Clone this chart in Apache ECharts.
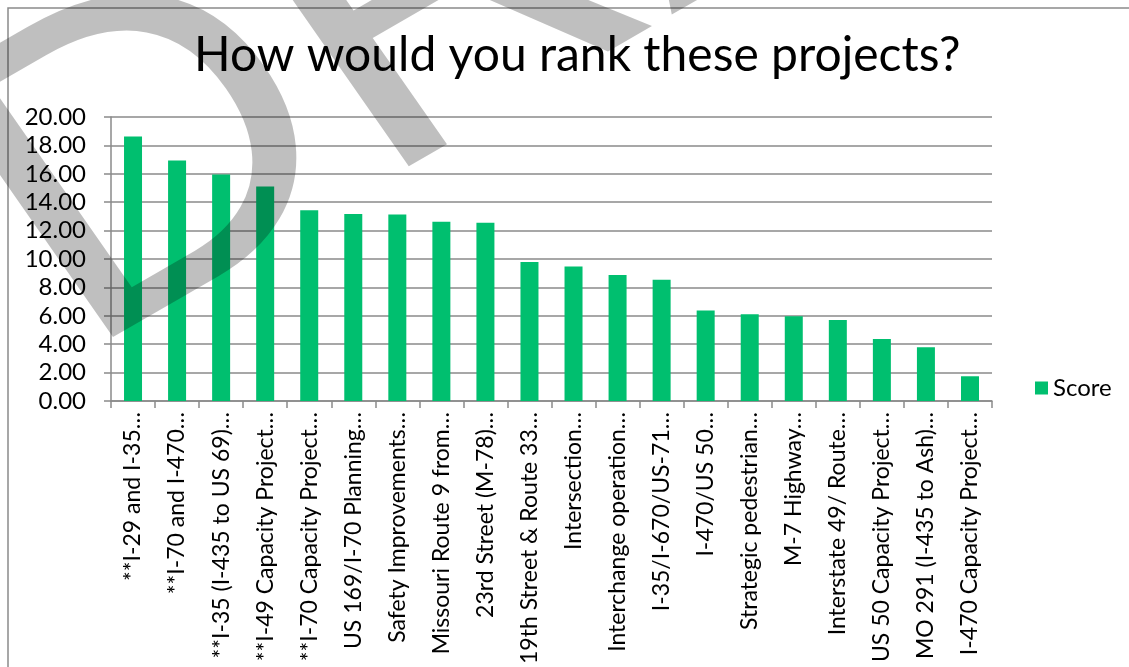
<!DOCTYPE html>
<html>
<head>
<meta charset="utf-8">
<script src="https://cdn.jsdelivr.net/npm/echarts/dist/echarts.min.js"></script>
<style>
html,body{margin:0;padding:0;background:#fff;}
#chart{width:1129px;height:667px;}
</style>
</head>
<body>
<div id="chart"></div>
<script>
var titleText = 'How would you rank these projects?';
var seriesName = 'Score';
var categories = [
  '**I-29 and I-35…',
  '**I-70 and I-470…',
  '**I-35 (I-435 to US 69)…',
  '**I-49 Capacity Project…',
  '**I-70 Capacity Project…',
  'US 169/I-70 Planning…',
  'Safety Improvements…',
  'Missouri Route 9 from…',
  '23rd Street (M-78)…',
  '19th Street & Route 33…',
  'Intersection…',
  'Interchange operation…',
  'I-35/I-670/US-71…',
  'I-470/US 50…',
  'Strategic pedestrian…',
  'M-7 Highway…',
  'Interstate 49/ Route…',
  'US 50 Capacity Project…',
  'MO 291 (I-435 to Ash)…',
  'I-470 Capacity Project…'
];
var scores = [18.62, 16.94, 15.95, 15.10, 13.44, 13.16, 13.14, 12.62, 12.55, 9.78,
              9.47, 8.87, 8.54, 6.38, 6.10, 5.96, 5.71, 4.36, 3.78, 1.74];
var watermarkText = 'DRAFT';

var FONT = 'Lato, "Open Sans", sans-serif';
var GRID_COLOR = '#8a8a8a';
var WM_SIZE = 441;
var chart = echarts.init(document.getElementById('chart'), null, {renderer: 'canvas'});
chart.setOption({
  animation: false,
  backgroundColor: '#ffffff',
  title: {
    text: titleText,
    left: 194,
    top: 32,
    padding: 0,
    textStyle: {fontFamily: FONT, fontSize: 48, fontWeight: 'normal', color: '#000'}
  },
  legend: {
    data: [seriesName],
    left: 1035,
    top: 376,
    padding: 0,
    icon: 'rect',
    itemWidth: 13,
    itemHeight: 13,
    itemGap: 6,
    textStyle: {fontFamily: FONT, fontSize: 24, color: '#000'}
  },
  grid: {left: 111, right: 137, top: 117, bottom: 263, containLabel: false},
  xAxis: {
    type: 'category',
    data: categories,
    axisLine: {show: true, lineStyle: {color: GRID_COLOR, width: 1.5}},
    axisTick: {show: true, length: 7, lineStyle: {color: GRID_COLOR, width: 1.5}},
    axisLabel: {
      interval: 0,
      rotate: 90,
      margin: 11,
      fontFamily: FONT,
      fontSize: 23,
      color: '#000'
    }
  },
  yAxis: {
    type: 'value',
    min: 0,
    max: 20,
    interval: 2,
    axisLine: {show: true, lineStyle: {color: GRID_COLOR, width: 1.5}},
    axisTick: {show: true, length: 7, lineStyle: {color: GRID_COLOR, width: 1.5}},
    splitLine: {show: true, lineStyle: {color: GRID_COLOR, width: 1.5}},
    axisLabel: {
      margin: 25,
      fontFamily: FONT,
      fontSize: 24,
      color: '#000',
      formatter: function (v) { return v.toFixed(2); }
    }
  },
  series: [{
    name: seriesName,
    type: 'bar',
    data: scores,
    barWidth: 18,
    itemStyle: {color: '#00bf6f'}
  }],
  graphic: [
    {
      type: 'rect',
      silent: true,
      z: 1,
      shape: {x: 8, y: 8, width: 1200, height: 800},
      style: {fill: 'none', stroke: '#8a8a8a', lineWidth: 1.5}
    },
    {
      type: 'group',
      silent: true,
      x: 75.3,
      y: 350.5,
      scaleX: 1.1,
      scaleY: 1,
      z: 100,
      children: [{
        type: 'text',
        silent: true,
        x: 0,
        y: 0,
        rotation: 0.5655,
        z: 100,
        style: {
          text: watermarkText,
          x: 0,
          y: -0.26 * WM_SIZE,
          font: 'normal ' + WM_SIZE + 'px "Liberation Sans", Arial, sans-serif',
          textAlign: 'left',
          textVerticalAlign: 'middle',
          fill: 'rgba(0,0,0,0.25)'
        }
      }]
    }
  ]
});
</script>
</body>
</html>
